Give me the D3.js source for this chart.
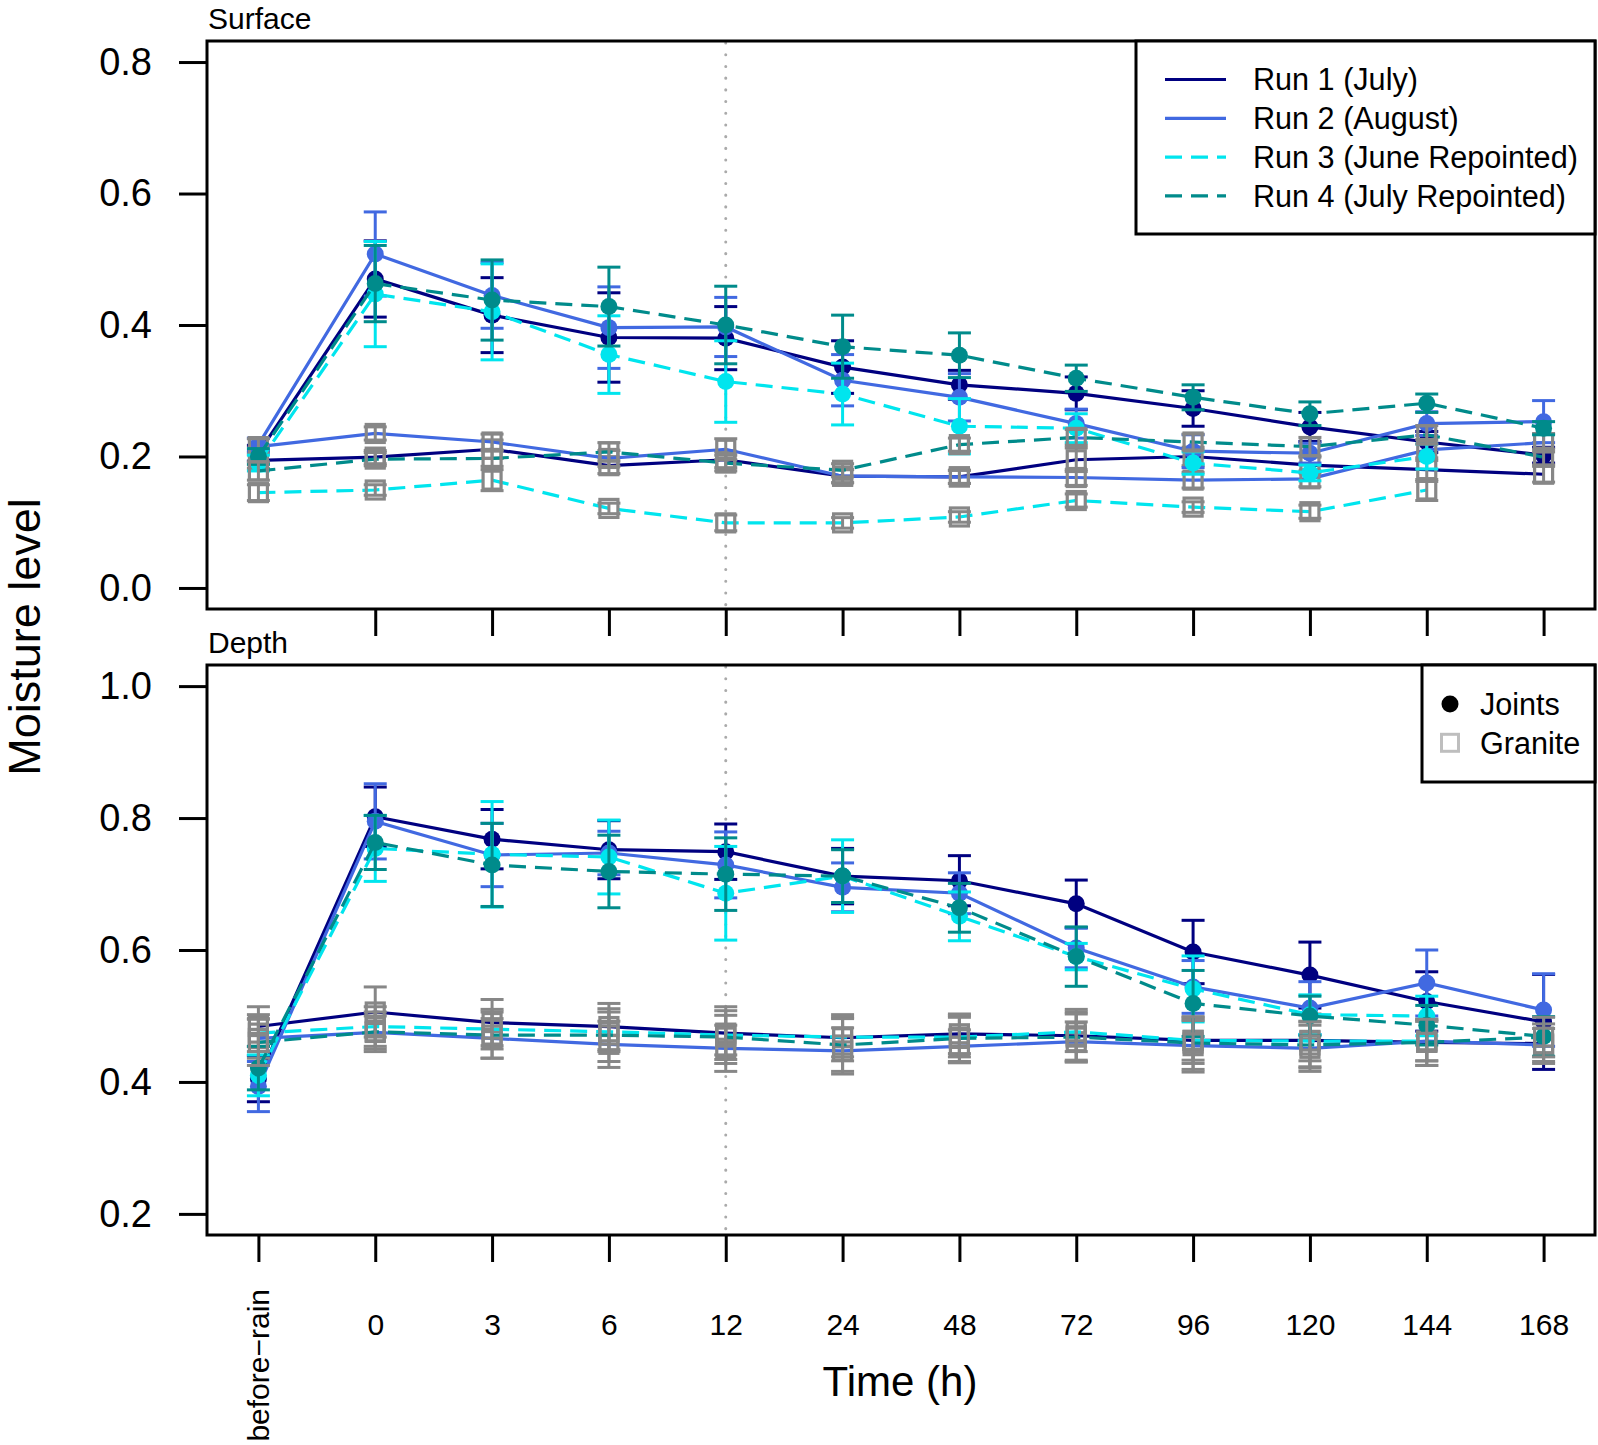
<!DOCTYPE html>
<html><head><meta charset="utf-8">
<script src="https://cdn.jsdelivr.net/npm/d3@7"></script>
<style>
body{margin:0;background:#fff;}
svg{display:block;font-family:"Liberation Sans",Arial,Helvetica,sans-serif;}
</style></head><body>
<svg id="chart" width="1598" height="1445"></svg>
<script>
// ---------------- DATA ----------------
const categories = ["before\u2212rain","0","3","6","12","24","48","72","96","120","144","168"];
const runs = ["Run 1 (July)","Run 2 (August)","Run 3 (June Repointed)","Run 4 (July Repointed)"];
const materials = ["Joints","Granite"];
const surfaceTicks = [0.0,0.2,0.4,0.6,0.8];
const depthTicks = [0.2,0.4,0.6,0.8,1.0];

// Surface – joints (means and half error bars)
const surfJointsRun1 = [0.205,0.470,0.415,0.381,0.380,0.336,0.309,0.296,0.273,0.245,0.222,0.202];
const surfJointsRun2 = [0.218,0.508,0.445,0.396,0.397,0.316,0.290,0.250,0.208,0.205,0.250,0.253];
const surfJointsRun3 = [0.190,0.447,0.420,0.355,0.314,0.295,0.246,0.243,0.190,0.175,0.200,null];
const surfJointsRun4 = [0.200,0.463,0.438,0.428,0.400,0.367,0.354,0.319,0.290,0.265,0.281,0.243];
const surfJointsErr1 = [0.012,0.058,0.057,0.068,0.048,0.040,0.022,0.025,0.027,0.022,0.016,0.012];
const surfJointsErr2 = [0.010,0.064,0.050,0.062,0.045,0.039,0.036,0.022,0.025,0.015,0.018,0.032];
const surfJointsErr3 = [0.012,0.080,0.073,0.059,0.062,0.047,0.042,0.022,0.017,0.012,0.019,null];
const surfJointsErr4 = [0.012,0.058,0.061,0.060,0.059,0.048,0.034,0.020,0.019,0.018,0.014,0.010];

// Surface – granite
const surfGraniteRun1 = [0.194,0.199,0.211,0.186,0.195,0.170,0.169,0.195,0.200,0.187,0.180,0.173];
const surfGraniteRun2 = [0.215,0.235,0.222,0.197,0.211,0.170,0.169,0.168,0.164,0.166,0.210,0.221];
const surfGraniteRun3 = [0.145,0.149,0.164,0.121,0.099,0.099,0.108,0.133,0.123,0.116,0.149,null];
const surfGraniteRun4 = [0.178,0.196,0.197,0.207,0.190,0.179,0.218,0.229,0.222,0.215,0.233,0.199];
const surfGraniteErr1 = [0.012,0.010,0.014,0.012,0.012,0.010,0.010,0.018,0.014,0.012,0.018,0.012];
const surfGraniteErr2 = [0.012,0.010,0.012,0.012,0.016,0.010,0.010,0.012,0.012,0.012,0.016,0.014];
const surfGraniteErr3 = [0.012,0.008,0.016,0.008,0.012,0.008,0.008,0.010,0.008,0.010,0.016,null];
const surfGraniteErr4 = [0.014,0.010,0.012,0.014,0.012,0.010,0.010,0.012,0.012,0.014,0.014,0.012];

// Depth – joints
const depthJointsRun1 = [0.405,0.802,0.768,0.752,0.749,0.712,0.705,0.670,0.597,0.562,0.522,0.491];
const depthJointsRun2 = [0.393,0.795,0.744,0.747,0.729,0.695,0.686,0.603,0.544,0.512,0.550,0.509];
const depthJointsRun3 = [0.410,0.754,0.745,0.741,0.686,0.712,0.651,0.590,0.541,0.502,0.500,null];
const depthJointsRun4 = [0.421,0.763,0.729,0.719,0.715,0.712,0.664,0.590,0.519,0.500,0.486,0.469];
const depthJointsErr1 = [0.035,0.045,0.045,0.044,0.042,0.042,0.038,0.036,0.048,0.050,0.045,0.072];
const depthJointsErr2 = [0.038,0.057,0.048,0.033,0.050,0.037,0.031,0.030,0.040,0.040,0.050,0.055];
const depthJointsErr3 = [0.031,0.050,0.080,0.056,0.071,0.055,0.037,0.020,0.050,0.030,0.030,null];
const depthJointsErr4 = [0.033,0.041,0.063,0.055,0.055,0.040,0.037,0.045,0.050,0.030,0.030,0.030];

// Depth – granite
const depthGraniteRun1 = [0.484,0.506,0.490,0.484,0.474,0.467,0.473,0.470,0.463,0.463,0.460,0.458];
const depthGraniteRun2 = [0.466,0.475,0.466,0.457,0.451,0.447,0.454,0.461,0.455,0.451,0.462,0.456];
const depthGraniteRun3 = [0.474,0.484,0.480,0.476,0.471,0.468,0.468,0.476,0.463,0.462,0.462,null];
const depthGraniteRun4 = [0.460,0.476,0.471,0.471,0.468,0.456,0.466,0.468,0.459,0.456,0.460,0.468];
const depthGraniteErr1 = [0.030,0.038,0.035,0.035,0.040,0.035,0.030,0.040,0.035,0.040,0.035,0.030];
const depthGraniteErr2 = [0.030,0.025,0.030,0.035,0.035,0.035,0.025,0.030,0.040,0.035,0.030,0.025];
const depthGraniteErr3 = [0.028,0.030,0.030,0.030,0.030,0.030,0.030,0.030,0.030,0.030,0.030,null];
const depthGraniteErr4 = [0.035,0.030,0.035,0.040,0.040,0.040,0.035,0.035,0.040,0.035,0.035,0.030];

// ---------------- STYLE ----------------
const runColors = ["#000080","#4169E1","#00E5EE","#008B8B"];
const runDash = [null,null,"17,9","17,9"];
const graniteColor = "#878787";
const FONT = '"Liberation Sans",Arial,Helvetica,sans-serif';
const LW = 3.2;

const svg = d3.select("#chart");
const left = 207, right = 1595;
const x = d3.scaleLinear().domain([1-0.44, categories.length+0.44]).range([left,right]);

const panels = [
  {title:"Surface", top:41, bottom:609, domain:[0,0.8], ticks:surfaceTicks,
   joints:[surfJointsRun1,surfJointsRun2,surfJointsRun3,surfJointsRun4],
   jointsErr:[surfJointsErr1,surfJointsErr2,surfJointsErr3,surfJointsErr4],
   granite:[surfGraniteRun1,surfGraniteRun2,surfGraniteRun3,surfGraniteRun4],
   graniteErr:[surfGraniteErr1,surfGraniteErr2,surfGraniteErr3,surfGraniteErr4],
   labels:false},
  {title:"Depth", top:665, bottom:1235, domain:[0.2,1.0], ticks:depthTicks,
   joints:[depthJointsRun1,depthJointsRun2,depthJointsRun3,depthJointsRun4],
   jointsErr:[depthJointsErr1,depthJointsErr2,depthJointsErr3,depthJointsErr4],
   granite:[depthGraniteRun1,depthGraniteRun2,depthGraniteRun3,depthGraniteRun4],
   graniteErr:[depthGraniteErr1,depthGraniteErr2,depthGraniteErr3,depthGraniteErr4],
   labels:true}
];

const capHalf = 11.5;

panels.forEach((p,pi) => {
  const span = p.domain[1]-p.domain[0];
  const y = d3.scaleLinear().domain([p.domain[0]-0.04*span, p.domain[1]+0.04*span]).range([p.bottom,p.top]);
  const g = svg.append("g");

  // dotted reference line at 12 h
  g.append("line")
    .attr("x1", x(categories.indexOf("12")+1)).attr("x2", x(categories.indexOf("12")+1))
    .attr("y1", p.top+2).attr("y2", p.bottom-2)
    .attr("stroke","#AAAAAA").attr("stroke-width",3)
    .attr("stroke-dasharray","0.1,11.6").attr("stroke-linecap","round");

  const line = d3.line().defined(d => d.v != null).x(d => x(d.i+1)).y(d => y(d.v));

  function drawSeries(vals, errs, color, dash, isGranite, lineColor){
    const pts = vals.map((v,i)=>({v, e:errs[i], i})).filter(d => d.v != null);
    const sg = g.append("g");
    sg.append("path").datum(vals.map((v,i)=>({v,i})))
      .attr("d", line).attr("fill","none")
      .attr("stroke", lineColor).attr("stroke-width",LW)
      .attr("stroke-dasharray", dash);
    const eg = sg.append("g").attr("stroke", color).attr("stroke-width",3).attr("fill","none");
    pts.forEach(d => {
      const cx = x(d.i+1), y1 = y(d.v+d.e), y2 = y(d.v-d.e);
      eg.append("line").attr("x1",cx).attr("x2",cx).attr("y1",y1).attr("y2",y2);
      eg.append("line").attr("x1",cx-capHalf).attr("x2",cx+capHalf).attr("y1",y1).attr("y2",y1);
      eg.append("line").attr("x1",cx-capHalf).attr("x2",cx+capHalf).attr("y1",y2).attr("y2",y2);
    });
    if (isGranite) {
      sg.selectAll("rect.pt").data(pts).enter().append("rect")
        .attr("x", d => x(d.i+1)-9).attr("y", d => y(d.v)-9)
        .attr("width",18).attr("height",18)
        .attr("fill","none").attr("stroke",graniteColor).attr("stroke-width",3.2);
    } else {
      sg.selectAll("circle.pt").data(pts).enter().append("circle")
        .attr("cx", d => x(d.i+1)).attr("cy", d => y(d.v)).attr("r",8.5)
        .attr("fill", color);
    }
  }

  runs.forEach((r,ri) => {
    drawSeries(p.joints[ri], p.jointsErr[ri], runColors[ri], runDash[ri], false, runColors[ri]);
    drawSeries(p.granite[ri], p.graniteErr[ri], graniteColor, runDash[ri], true, runColors[ri]);
  });

  // box
  g.append("rect").attr("x",left).attr("y",p.top).attr("width",right-left).attr("height",p.bottom-p.top)
    .attr("fill","none").attr("stroke","#000").attr("stroke-width",3);

  // y axis
  const ya = g.append("g").attr("transform",`translate(${left},0)`)
    .call(d3.axisLeft(y).tickValues(p.ticks).tickSize(28).tickPadding(27).tickFormat(d3.format(".1f")));
  ya.select(".domain").remove();
  ya.selectAll("line").attr("stroke","#000").attr("stroke-width",3);
  ya.selectAll("text").attr("font-size",38).attr("font-family",FONT).attr("fill","#000");

  // x axis
  const idx = categories.map((c,i)=>i+1).filter(i => p.labels || i>1);
  const xa = g.append("g").attr("transform",`translate(0,${p.bottom})`)
    .call(d3.axisBottom(x).tickValues(idx).tickSize(27).tickPadding(52)
      .tickFormat(d => p.labels ? categories[d-1] : ""));
  xa.select(".domain").remove();
  xa.selectAll("line").attr("stroke","#000").attr("stroke-width",3);
  xa.selectAll("text").attr("font-size",30).attr("font-family",FONT).attr("fill","#000");
  if (p.labels) {
    xa.selectAll(".tick").filter(d => d === 1).select("text")
      .attr("text-anchor","end").attr("y",null).attr("dy","0.35em")
      .attr("transform","translate(0,54) rotate(-90)");
  }

  // panel title
  svg.append("text").attr("x",208).attr("y",p.top-12.5).attr("font-size",30).attr("font-family",FONT)
    .text(p.title);
});

// axis titles
svg.append("text").attr("x",900).attr("y",1396).attr("text-anchor","middle")
  .attr("font-size",42).attr("font-family",FONT).text("Time (h)");
svg.append("text").attr("transform","translate(40,637) rotate(-90)").attr("text-anchor","middle")
  .attr("font-size",45).attr("font-family",FONT).text("Moisture level");

// legend 1 (runs)
const lg1 = svg.append("g");
lg1.append("rect").attr("x",1136).attr("y",41).attr("width",1595-1136).attr("height",234-41)
  .attr("fill","#fff").attr("stroke","#000").attr("stroke-width",3);
runs.forEach((r,i) => {
  const yy = 79.5 + i*38.8;
  lg1.append("line").attr("x1",1165).attr("x2",1226).attr("y1",yy).attr("y2",yy)
    .attr("stroke",runColors[i]).attr("stroke-width",LW).attr("stroke-dasharray",runDash[i]);
  lg1.append("text").attr("x",1253).attr("y",yy).attr("dy","0.35em")
    .attr("font-size",30.6).attr("font-family",FONT).text(r);
});

// legend 2 (materials)
const lg2 = svg.append("g");
lg2.append("rect").attr("x",1422).attr("y",665).attr("width",1595-1422).attr("height",782-665)
  .attr("fill","#fff").attr("stroke","#000").attr("stroke-width",3);
materials.forEach((m,i) => {
  const yy = 704 + i*38.8;
  if (i===0) lg2.append("circle").attr("cx",1450).attr("cy",yy).attr("r",8.5).attr("fill","#000");
  else lg2.append("rect").attr("x",1450-8.5).attr("y",yy-8.5).attr("width",17).attr("height",17)
    .attr("fill","none").attr("stroke","#BEBEBE").attr("stroke-width",3);
  lg2.append("text").attr("x",1480).attr("y",yy).attr("dy","0.35em")
    .attr("font-size",30.6).attr("font-family",FONT).text(m);
});
</script>
</body></html>
